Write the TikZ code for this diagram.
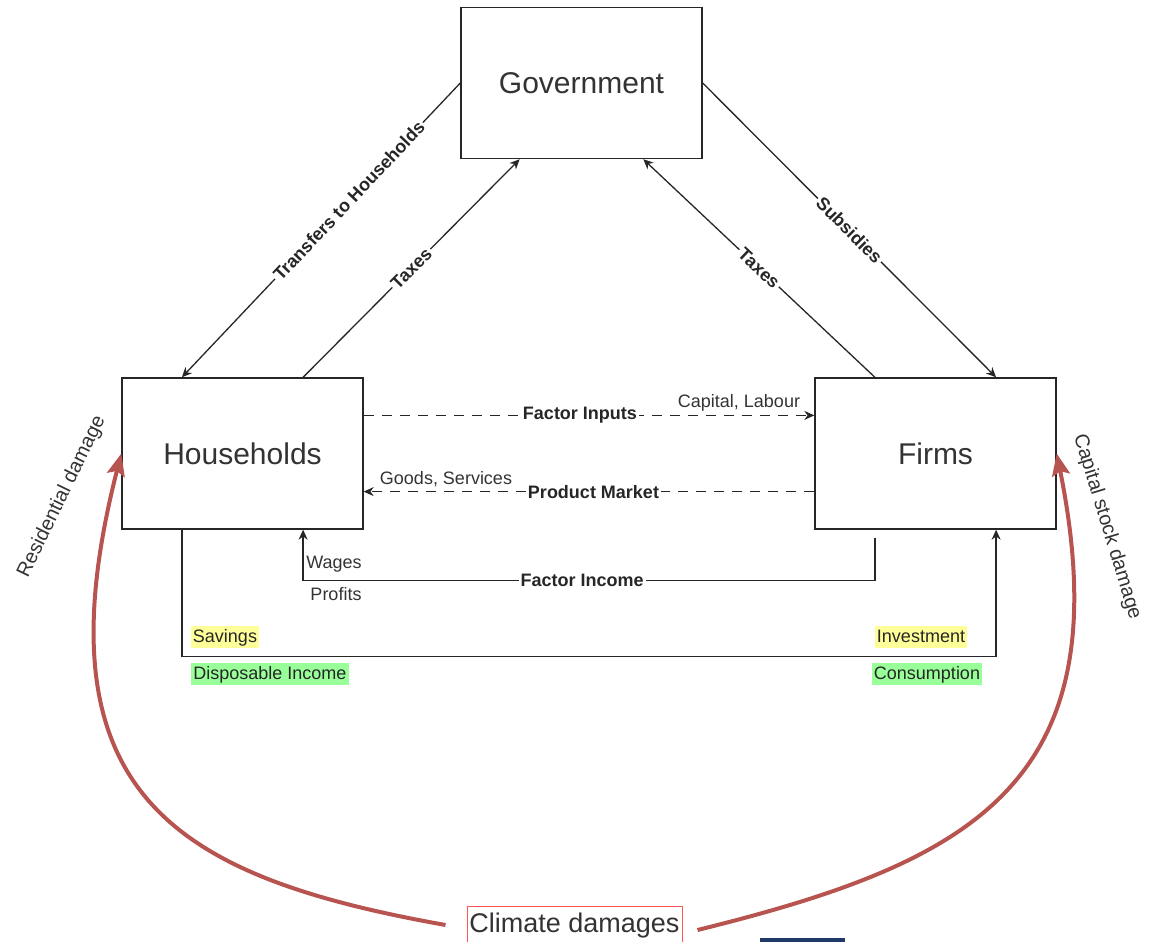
\documentclass[tikz,border=0pt]{standalone}
\usepackage{fontspec}
\setmainfont{Liberation Sans}
\usetikzlibrary{arrows.meta,calc}

\definecolor{txtgray}{HTML}{333333}
\definecolor{damagered}{HTML}{B85450}
\definecolor{boxred}{HTML}{FF5555}
\definecolor{hlyellow}{HTML}{FFFF99}
\definecolor{hlgreen}{HTML}{99FF99}
\definecolor{navybar}{HTML}{1F3A68}

\tikzset{
  sector/.style={draw=black!85, line width=0.7pt, minimum width=120.5pt, minimum height=75.5pt, text=txtgray, font=\fontsize{15}{18}\selectfont},
  flow/.style={draw=black!85, line width=0.65pt, -{Stealth[length=5pt,width=4.5pt]}},
  market/.style={flow, dash pattern=on 5pt off 4pt},
  flowlabel/.style={fill=white, inner sep=1pt, font=\fontsize{9}{11}\selectfont\bfseries, text=black!85},
  smallnote/.style={inner sep=0pt, font=\fontsize{9}{11}\selectfont, text=txtgray},
  hilite/.style={inner sep=1pt, font=\fontsize{9}{11}\selectfont, text=black!85, text height=7pt, text depth=2pt},
  damage/.style={draw=damagered, line width=2pt, -{Stealth[length=11pt,width=9pt,inset=2pt]}},
  sidenote/.style={inner sep=0pt, font=\fontsize{10}{12}\selectfont, text=txtgray},
}

\begin{document}
\begin{tikzpicture}[x=0.5pt,y=-0.5pt]

\useasboundingbox (0,0) rectangle (1153,942);

\node[sector] (gov) at (581.5,83) {Government};
\node[sector] (hh) at (242.5,453.5) {Households};
\node[sector] (firms) at (935.5,453.5) {Firms};

\draw[flow] (gov.west) -- node[flowlabel,sloped,pos=0.4] {Transfers to Households} ($(hh.north west)!.25!(hh.north east)$);
\draw[flow] ($(hh.north west)!.75!(hh.north east)$) -- node[flowlabel,sloped] {Taxes} ($(gov.south west)!.245!(gov.south east)$);
\draw[flow] ($(firms.north west)!.25!(firms.north east)$) -- node[flowlabel,sloped] {Taxes} ($(gov.south west)!.755!(gov.south east)$);
\draw[flow] (gov.east) -- node[flowlabel,sloped] {Subsidies} ($(firms.north west)!.75!(firms.north east)$);

\draw[market] ($(hh.north east)!.25!(hh.south east)$) -- node[flowlabel,pos=0.48] {Factor Inputs} ($(firms.north west)!.25!(firms.south west)$);
\draw[market] ($(firms.north west)!.75!(firms.south west)$) -- node[flowlabel,pos=0.49] {Product Market} ($(hh.north east)!.75!(hh.south east)$);

\coordinate (fi) at ($(firms.south west)!.25!(firms.south east)+(0,8)$);
\draw[flow] (fi) -- ++(0,43) -| node[flowlabel,pos=0.256] {Factor Income} ($(hh.south west)!.75!(hh.south east)$);
\draw[flow] ($(hh.south west)!.25!(hh.south east)$) -- ++(0,127) -| ($(firms.south west)!.75!(firms.south east)$);

\node[smallnote] (caplab) at (739,403) {Capital, Labour};
\node[smallnote] (goods) at (446,479) {Goods, Services};
\node[smallnote] (wages) at (334,564) {Wages};
\node[smallnote] (profits) at (336,594) {Profits};

\node[hilite,fill=hlyellow] (sav) at (225,637) {Savings};
\node[hilite,fill=hlgreen] (disp) at (270,674) {Disposable Income};
\node[hilite,fill=hlyellow] (inv) at (921,637) {Investment};
\node[hilite,fill=hlgreen] (cons) at (927,674) {Consumption};

\node[draw=boxred, line width=0.5pt, inner xsep=1pt, minimum width=107.5pt, minimum height=18pt, text=txtgray, font=\fontsize{13.5}{16}\selectfont] (clim) at (574.5,926) {Climate damages};

\draw[damage] ($(clim.west)+(-21,-1)$) .. controls (177,877) and (34,796) .. (hh.west);
\draw[damage] ($(clim.east)+(15,4)$) .. controls (973,862) and (1123,783) .. (firms.east);

\node[sidenote,rotate=64] (resid) at (62,497) {Residential damage};
\node[sidenote,rotate=-73] (capdmg) at (1107,527) {Capital stock damage};

\fill[navybar] (760,938) rectangle (845,950);

\end{tikzpicture}
\end{document}
